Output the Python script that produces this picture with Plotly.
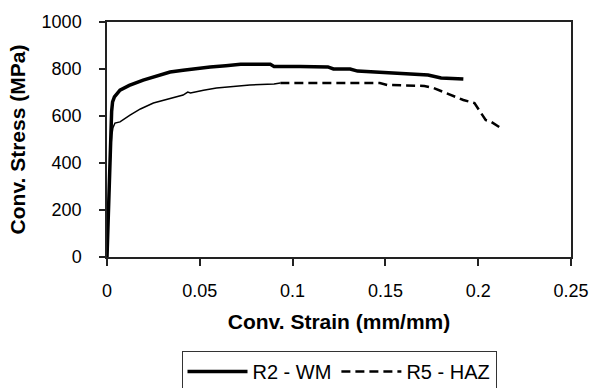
import plotly.graph_objects as go

# R2 - WM (weld metal)
r2_strain = [0.0, 0.0005, 0.001, 0.0015, 0.002, 0.0025, 0.003, 0.004, 0.007, 0.012, 0.0195, 0.027, 0.034,
             0.041, 0.0486, 0.0556, 0.064, 0.072, 0.088, 0.09, 0.104, 0.119, 0.122, 0.131, 0.135,
             0.146, 0.158, 0.173, 0.18, 0.192]
r2_stress = [0, 150, 310, 450, 560, 620, 660, 681, 710, 730, 753, 770, 787,
             795, 804, 809, 814, 820, 820, 811, 811, 809, 800, 800, 791,
             787, 783, 774, 762, 757]

# R5 - HAZ (heat affected zone)
r5_strain = [0.0, 0.0005, 0.001, 0.0015, 0.002, 0.0026, 0.0032, 0.0043, 0.007, 0.0124, 0.018, 0.025, 0.033,
             0.041, 0.0435, 0.045, 0.052, 0.059, 0.068, 0.077, 0.09, 0.0934]
r5_stress = [0, 120, 250, 370, 460, 520, 550, 570, 575, 604, 630, 655, 673,
             689, 702, 698, 710, 719, 726, 732, 736, 740]
r5_tail_strain = [0.0934, 0.104, 0.115, 0.131, 0.147, 0.151, 0.171, 0.176, 0.185, 0.192, 0.198, 0.204, 0.207, 0.213]
r5_tail_stress = [740, 740, 740, 740, 740, 732, 728, 719, 689, 668, 655, 583, 575, 545]

fig = go.Figure()
fig.add_trace(go.Scatter(x=r2_strain, y=r2_stress, mode="lines", name="R2 - WM",
                         line=dict(color="black", width=3.5)))
fig.add_trace(go.Scatter(x=r5_strain, y=r5_stress, mode="lines", showlegend=False,
                         line=dict(color="black", width=1.5)))
fig.add_trace(go.Scatter(x=r5_tail_strain, y=r5_tail_stress, mode="lines", name="R5 - HAZ",
                         line=dict(color="black", width=2.5, dash="9px,5px")))

font_family = "Liberation Sans, Arial, sans-serif"
fig.update_layout(
    width=596, height=388,
    margin=dict(l=107, r=25, t=22, b=131, autoexpand=False),
    paper_bgcolor="white", plot_bgcolor="white",
    font=dict(family=font_family, size=18, color="black"),
    showlegend=True,
    legend=dict(orientation="h", x=0.5, xanchor="center", y=-0.4, yanchor="top",
                bordercolor="#333", borderwidth=1, font=dict(size=20),
                itemwidth=60, tracegroupgap=0),
    xaxis=dict(range=[0, 0.25], tickvals=[0, 0.05, 0.1, 0.15, 0.2, 0.25],
               ticktext=["0", "0.05", "0.1", "0.15", "0.2", "0.25"],
               showgrid=False, zeroline=False, showline=True, linecolor="#222", linewidth=1.5,
               mirror=True, ticks="outside", ticklen=7, tickcolor="#222", tickwidth=1.5,
               ticklabelstandoff=10,
               title=dict(text="<b>Conv. Strain (mm/mm)</b>", standoff=14, font=dict(size=21))),
    yaxis=dict(range=[0, 1000], tickvals=[0, 200, 400, 600, 800, 1000],
               showgrid=False, zeroline=False, showline=True, linecolor="#222", linewidth=1.5,
               mirror=True, ticks="outside", ticklen=6, tickcolor="#222", tickwidth=1.5,
               ticklabelstandoff=14,
               title=dict(text="<b>Conv. Stress (MPa)</b>", standoff=10, font=dict(size=21))),
)

fig.write_html("out.html")
